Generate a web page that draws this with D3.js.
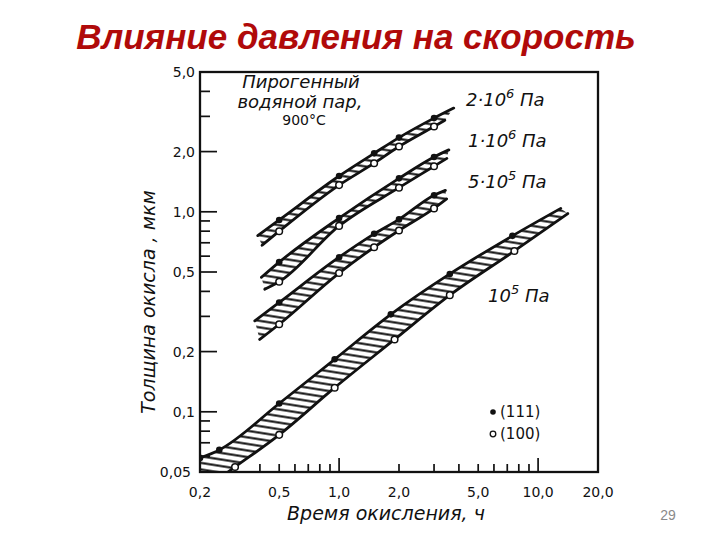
<!DOCTYPE html>
<html>
<head>
<meta charset="utf-8">
<script src="https://cdn.jsdelivr.net/npm/d3@7/dist/d3.min.js"></script>
<style>
  html, body { margin: 0; padding: 0; background: #fff; }
  svg { display: block; }
</style>
</head>
<body>
<svg id="chart" width="720" height="540"></svg>
<script>
// ---------- DATA (time, h ; thickness, µm) ----------
const xTickLabels = [0.2, 0.5, 1, 2, 5, 10, 20];
const xMinorTicks = [0.4, 0.5, 0.6, 0.7, 0.8, 0.9, 2, 3, 4, 5, 6, 7, 8, 9];
const xMajorTicks = [1, 10];
const yTickLabels = [0.05, 0.1, 0.2, 0.5, 1, 2, 5];
const yMajorTicks = [0.1, 0.2, 0.5, 1, 2];
const yMinorTicks = [0.06, 0.07, 0.08, 0.09, 0.3, 0.4, 0.6, 0.7, 0.8, 0.9, 3, 4];

// band 2·10^6 Pa
const upper2e6 = [[0.39, 0.76], [0.5, 0.91], [1, 1.51], [1.5, 1.96], [2, 2.35], [3, 2.94], [3.77, 3.30]];
const lower2e6 = [[0.41, 0.68], [0.5, 0.80], [1, 1.36], [1.5, 1.75], [2, 2.12], [3, 2.67], [3.4, 2.87]];
const dots111_2e6 = [[0.5, 0.91], [1, 1.51], [1.5, 1.96], [2, 2.35], [3, 2.94]];
const dots100_2e6 = [[0.5, 0.80], [1, 1.36], [1.5, 1.75], [2, 2.12], [3, 2.67]];

// band 1·10^6 Pa
const upper1e6 = [[0.407, 0.47], [0.5, 0.56], [1, 0.93], [2, 1.47], [3, 1.88], [3.56, 2.04]];
const lower1e6 = [[0.423, 0.41], [0.5, 0.447], [1, 0.85], [2, 1.32], [3, 1.69], [3.48, 1.85]];
const dots111_1e6 = [[0.5, 0.56], [1, 0.93], [2, 1.47], [3, 1.88]];
const dots100_1e6 = [[0.5, 0.447], [1, 0.85], [2, 1.32], [3, 1.69]];

// band 5·10^5 Pa
const upper5e5 = [[0.377, 0.285], [0.5, 0.352], [1, 0.593], [1.5, 0.776], [2, 0.916], [3, 1.21], [3.42, 1.28]];
const lower5e5 = [[0.399, 0.23], [0.5, 0.274], [1, 0.494], [1.5, 0.665], [2, 0.806], [3, 1.04], [3.47, 1.16]];
const dots111_5e5 = [[0.5, 0.352], [1, 0.593], [1.5, 0.776], [2, 0.916], [3, 1.21]];
const dots100_5e5 = [[0.5, 0.274], [1, 0.494], [1.5, 0.665], [2, 0.806], [3, 1.04]];

// band 10^5 Pa
const upper1e5 = [[0.2, 0.0588], [0.25, 0.0645], [0.5, 0.110], [0.95, 0.183], [1.82, 0.307], [3.6, 0.489], [7.43, 0.758], [13.0, 1.04]];
const lower1e5 = [[0.2, 0.0396], [0.3, 0.053], [0.5, 0.0767], [0.95, 0.132], [1.9, 0.23], [3.6, 0.383], [7.6, 0.637], [14.1, 0.98]];
const dots111_1e5 = [[0.2, 0.0588], [0.25, 0.0645], [0.5, 0.110], [0.95, 0.183], [1.82, 0.307], [3.6, 0.489], [7.43, 0.758]];
const dots100_1e5 = [[0.3, 0.053], [0.5, 0.0767], [0.95, 0.132], [1.9, 0.23], [3.6, 0.383], [7.6, 0.637]];

const bands = [
  { upper: upper2e6, lower: lower2e6, d111: dots111_2e6, d100: dots100_2e6 },
  { upper: upper1e6, lower: lower1e6, d111: dots111_1e6, d100: dots100_1e6 },
  { upper: upper5e5, lower: lower5e5, d111: dots111_5e5, d100: dots100_5e5 },
  { upper: upper1e5, lower: lower1e5, d111: dots111_1e5, d100: dots100_1e5 }
];

// ---------- DRAW ----------
const svg = d3.select("#chart");
const L = 200, R = 598, T = 72, B = 472;
const x = d3.scaleLog().domain([0.2, 20]).range([L, R]);
const y = d3.scaleLog().domain([0.05, 5]).range([B, T]);
const fmtX = v => (v < 1 ? String(v) : v.toFixed(1)).replace(".", ",");
const fmtY = v => (v < 1 ? String(v) : v.toFixed(1)).replace(".", ",");

// title
svg.append("text").attr("x", 356).attr("y", 49).attr("text-anchor", "middle")
  .attr("font-family", "Liberation Sans, Arial, sans-serif").attr("font-size", 35)
  .attr("font-weight", "bold").attr("font-style", "italic").attr("fill", "#B00A0A")
  .text("Влияние давления на скорость");

const defs = svg.append("defs");
defs.append("clipPath").attr("id", "plotclip").append("rect")
  .attr("x", L).attr("y", T).attr("width", R - L).attr("height", B - T);
const pat = defs.append("pattern").attr("id", "hatch").attr("patternUnits", "userSpaceOnUse")
  .attr("width", 12).attr("height", 6.5).attr("patternTransform", "rotate(9)");
pat.append("line").attr("x1", -2).attr("x2", 14).attr("y1", 3.25).attr("y2", 3.25)
  .attr("stroke", "#111").attr("stroke-width", 2.1);

const plot = svg.append("g").attr("clip-path", "url(#plotclip)");
const curve = d3.curveMonotoneX;
const line = d3.line().x(d => x(d[0])).y(d => y(d[1])).curve(curve);

bands.forEach(b => {
  const up = line(b.upper);
  const lowRev = line(b.lower.slice().reverse());
  plot.append("path").attr("d", up + "L" + lowRev.slice(1) + "Z")
    .attr("fill", "url(#hatch)").attr("stroke", "none");
  [b.upper, b.lower].forEach(pts => {
    plot.append("path").attr("d", line(pts)).attr("fill", "none")
      .attr("stroke", "#111").attr("stroke-width", 2.8).attr("stroke-linecap", "round");
  });
});

bands.forEach(b => {
  plot.selectAll(null).data(b.d111).enter().append("circle")
    .attr("cx", d => x(d[0])).attr("cy", d => y(d[1])).attr("r", 3.3).attr("fill", "#111");
  plot.selectAll(null).data(b.d100).enter().append("circle")
    .attr("cx", d => x(d[0])).attr("cy", d => y(d[1])).attr("r", 3.3)
    .attr("fill", "#fff").attr("stroke", "#111").attr("stroke-width", 1.5);
});

// frame
svg.append("rect").attr("x", L).attr("y", T).attr("width", R - L).attr("height", B - T)
  .attr("fill", "none").attr("stroke", "#111").attr("stroke-width", 2.3);

// ticks
const axisG = svg.append("g").attr("stroke", "#111").attr("stroke-width", 1.7);
axisG.selectAll(null).data(xMinorTicks).enter().append("line")
  .attr("x1", d => x(d)).attr("x2", d => x(d)).attr("y1", B).attr("y2", B - 8);
axisG.selectAll(null).data(xMajorTicks).enter().append("line")
  .attr("x1", d => x(d)).attr("x2", d => x(d)).attr("y1", B).attr("y2", B - 14);
axisG.selectAll(null).data(yMinorTicks).enter().append("line")
  .attr("x1", L).attr("x2", L + 10).attr("y1", d => y(d)).attr("y2", d => y(d));
axisG.selectAll(null).data(yMajorTicks).enter().append("line")
  .attr("x1", L).attr("x2", L + 17).attr("y1", d => y(d)).attr("y2", d => y(d));

const tickFont = "DejaVu Sans, sans-serif";
svg.append("g").selectAll("text").data(xTickLabels).enter().append("text")
  .attr("x", d => x(d)).attr("y", 497).attr("text-anchor", "middle")
  .attr("font-family", tickFont).attr("font-size", 14).attr("fill", "#111")
  .text(fmtX);
svg.append("g").selectAll("text").data(yTickLabels).enter().append("text")
  .attr("x", d => d === 0.05 ? 191 : 195).attr("y", d => y(d) + 5)
  .attr("text-anchor", "end")
  .attr("font-family", tickFont).attr("font-size", 14).attr("fill", "#111")
  .text(fmtY);

// axis titles
const labFont = "DejaVu Sans, sans-serif";
svg.append("text").attr("x", 386).attr("y", 520).attr("text-anchor", "middle")
  .attr("font-family", labFont).attr("font-size", 19).attr("font-style", "italic")
  .attr("fill", "#111").text("Время окисления, ч");
svg.append("text").attr("transform", "translate(155,302) rotate(-90)").attr("text-anchor", "middle")
  .attr("font-family", labFont).attr("font-size", 19).attr("font-style", "italic")
  .attr("fill", "#111").text("Толщина окисла , мкм");

// annotation
const ann = svg.append("g").attr("font-family", labFont).attr("fill", "#111");
ann.append("text").attr("x", 301).attr("y", 88).attr("text-anchor", "middle")
  .attr("font-size", 18).attr("font-style", "italic").text("Пирогенный");
ann.append("text").attr("x", 300).attr("y", 108).attr("text-anchor", "middle")
  .attr("font-size", 18).attr("font-style", "italic").text("водяной пар,");
ann.append("text").attr("x", 304).attr("y", 125).attr("text-anchor", "middle")
  .attr("font-size", 14).text("900°C");

function pressureLabel(px, py, mant, exp) {
  const t = ann.append("text").attr("x", px).attr("y", py)
    .attr("font-size", 18).attr("font-style", "italic");
  t.append("tspan").text(mant + "10");
  t.append("tspan").attr("dy", -8).attr("font-size", 13).text(exp);
  t.append("tspan").attr("dy", 8).text(" Па");
}
pressureLabel(466, 106, "2·", "6");
pressureLabel(468, 147, "1·", "6");
pressureLabel(468, 188, "5·", "5");
pressureLabel(488, 302, "", "5");

// legend
svg.append("circle").attr("cx", 493).attr("cy", 412).attr("r", 2.8).attr("fill", "#111");
svg.append("circle").attr("cx", 493).attr("cy", 434).attr("r", 2.8).attr("fill", "#fff")
  .attr("stroke", "#111").attr("stroke-width", 1.3);
svg.append("text").attr("x", 500).attr("y", 417).attr("font-family", tickFont)
  .attr("font-size", 15).attr("fill", "#111").text("(111)");
svg.append("text").attr("x", 500).attr("y", 439).attr("font-family", tickFont)
  .attr("font-size", 15).attr("fill", "#111").text("(100)");

// page number
svg.append("text").attr("x", 668).attr("y", 520).attr("text-anchor", "middle")
  .attr("font-family", "Liberation Sans, Arial, sans-serif").attr("font-size", 14)
  .attr("fill", "#8a8a8a").text("29");
</script>
</body>
</html>
